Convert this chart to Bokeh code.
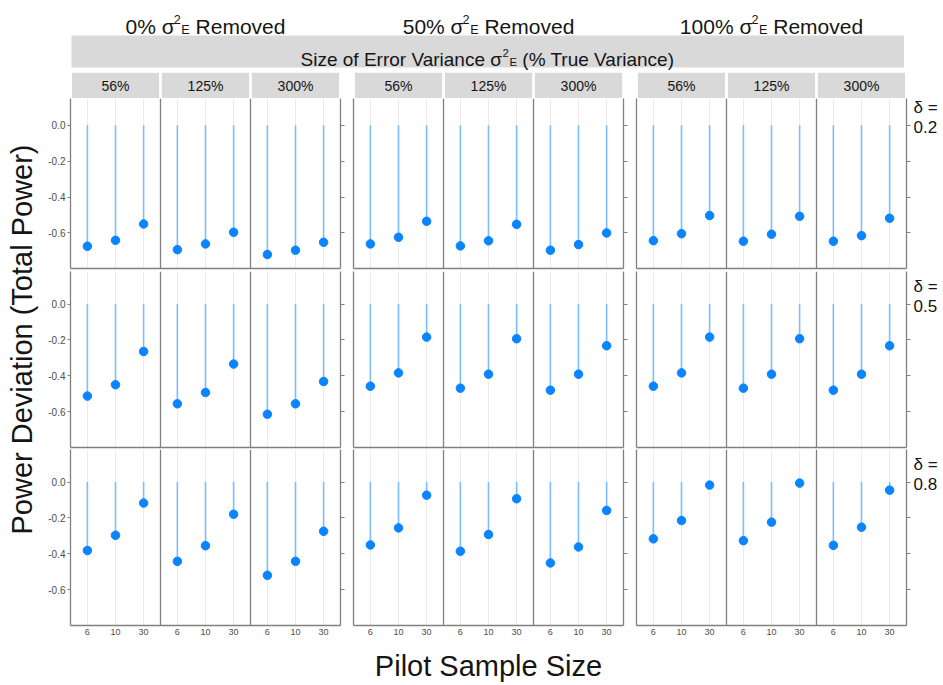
import math

from bokeh.core.properties import value
from bokeh.embed import file_html
from bokeh.layouts import column, row
from bokeh.models import FixedTicker, LinearAxis, NumeralTickFormatter, Range1d, Span
from bokeh.plotting import figure
from bokeh.resources import INLINE

FONT = "Liberation Sans"

# ---------------------------------------------------------------- data
removal_levels = ["0%", "50%", "100%"]            # share of error variance removed
error_variance_levels = ["56%", "125%", "300%"]  # size of error variance (% true variance)
pilot_sizes = ["6", "10", "30"]                   # pilot sample size
effect_sizes = ["0.2", "0.5", "0.8"]              # delta
y_ticks = [-0.6, -0.4, -0.2, 0.0]

# Power deviation: one list per error-variance size, one value per pilot size.
d02_removed0 = [[-0.674, -0.641, -0.550], [-0.693, -0.661, -0.596], [-0.720, -0.696, -0.652]]
d02_removed50 = [[-0.661, -0.624, -0.535], [-0.672, -0.644, -0.552], [-0.696, -0.665, -0.600]]
d02_removed100 = [[-0.643, -0.604, -0.503], [-0.646, -0.607, -0.507], [-0.646, -0.615, -0.518]]

d05_removed0 = [[-0.512, -0.449, -0.264], [-0.555, -0.492, -0.334], [-0.613, -0.555, -0.431]]
d05_removed50 = [[-0.457, -0.383, -0.184], [-0.468, -0.390, -0.193], [-0.479, -0.390, -0.232]]
d05_removed100 = [[-0.457, -0.383, -0.184], [-0.468, -0.390, -0.193], [-0.479, -0.390, -0.232]]

d08_removed0 = [[-0.381, -0.296, -0.117], [-0.441, -0.354, -0.179], [-0.519, -0.441, -0.274]]
d08_removed50 = [[-0.350, -0.255, -0.073], [-0.385, -0.292, -0.093], [-0.450, -0.361, -0.158]]
d08_removed100 = [[-0.316, -0.214, -0.017], [-0.326, -0.223, -0.006], [-0.352, -0.251, -0.045]]

power_deviation = [
    [d02_removed0, d02_removed50, d02_removed100],
    [d05_removed0, d05_removed50, d05_removed100],
    [d08_removed0, d08_removed50, d08_removed100],
]

# ---------------------------------------------------------------- layout / style
PANEL_W = 90
GROUP_FRAME_W = 3 * PANEL_W
PANEL_SPAN = 3.2          # data width of one facet (3 levels + padding)
X_START = 0.4
X_END = X_START + 3 * PANEL_SPAN
LEFT_BORDER = [30, 6, 6]
RIGHT_BORDER = 7
YTITLE_W = 40
LABEL_W = 30
HEADER_H = 72
STRIP_H = 26
FOOTER_H = 40
ROW_FRAME_H = [170, 176, 176]
ROW_BOTTOM = [3, 2, 20]
ROW_TOP = [0.149, 0.181, 0.181]
Y_BOTTOM = -0.798

AXIS_GRAY = "#808080"
GRID_GRAY = "#ebebeb"
STRIP_GRAY = "#d9d9d9"
POINT_BLUE = "#0a84ff"
STEM_BLUE = "#7cbcff"
TICK_TEXT = "#4d4d4d"
TEXT = "#151515"

x_positions = [c * PANEL_SPAN + k + 1 for c in range(3) for k in range(3)]
x_labels = {x: pilot_sizes[i % 3] for i, x in enumerate(x_positions)}

CHAR_W = {" ": 278, "%": 889, "(": 333, ")": 333, "=": 584, "A": 667, "E": 667,
          "P": 667, "R": 722, "S": 667, "T": 611, "V": 667, "a": 556, "c": 500,
          "d": 556, "e": 556, "f": 278, "i": 222, "l": 222, "m": 833, "n": 556,
          "o": 556, "p": 556, "r": 333, "t": 278, "u": 556, "v": 500, "w": 722,
          "z": 500, "σ": 571, "δ": 556}


def text_width(s, size):
    return sum(CHAR_W.get(ch, 556) for ch in s) / 1000.0 * size


def blank_figure(width, height, x_range, y_range, **borders):
    p = figure(width=width, height=height, x_range=x_range, y_range=y_range,
               x_axis_location=None, y_axis_location=None, title=None,
               output_backend="svg", toolbar_location=None,
               min_border_left=borders.get("left", 0), min_border_right=borders.get("right", 0),
               min_border_top=borders.get("top", 0), min_border_bottom=borders.get("bottom", 0))
    p.grid.visible = False
    p.outline_line_color = None
    p.background_fill_color = "white"
    p.border_fill_color = "white"
    return p


SCRIPT_SCALE = 0.6


def rich_text(p, cx, baseline, size, parts):
    """Centered text made of normal, superscript and subscript runs."""
    sizes = [size * SCRIPT_SCALE if style else size for _, style in parts]
    widths = [text_width(t, s) for (t, _), s in zip(parts, sizes)]
    widths = [w + (0.03 * size if style == "sub" else 0.0)
              for w, (_, style) in zip(widths, parts)]
    x = cx - sum(widths) / 2.0
    for (txt, style), fs, w in zip(parts, sizes, widths):
        dy = -0.33 * size if style == "sup" else (0.16 * size if style == "sub" else 0.0)
        lead = text_width(txt[:len(txt) - len(txt.lstrip())], fs)
        shift = 0.03 * size if style == "sub" else 0.0
        p.text(x=[x + lead + shift], y=[baseline + dy], text=[txt.strip()],
               text_font=value(FONT), text_font_size=f"{fs:.1f}px", text_align="left",
               text_baseline="alphabetic", text_color=TEXT)
        x += w


def sigma_parts(before, after):
    return [(before + "σ", ""), ("2", "sup"), ("E", "sub"), (after, "")]


# ---------------------------------------------------------------- header
header_w = 943 - YTITLE_W
header = blank_figure(header_w, HEADER_H, Range1d(0, header_w), Range1d(HEADER_H, 0))
group_left = []
offset = 0
for g in range(3):
    group_left.append(offset + LEFT_BORDER[g])
    offset += LEFT_BORDER[g] + GROUP_FRAME_W + RIGHT_BORDER
for g, lvl in enumerate(removal_levels):
    rich_text(header, group_left[g] + GROUP_FRAME_W / 2, 26, 21,
              sigma_parts(lvl + " ", " Removed"))
header.quad(left=[group_left[0] + 1], right=[group_left[2] + GROUP_FRAME_W - 2.5],
            bottom=[67], top=[35], fill_color=STRIP_GRAY, line_color=None)
rich_text(header, (group_left[0] + group_left[2] + GROUP_FRAME_W) / 2, 58.5, 19,
          sigma_parts("Size of Error Variance ", " (% True Variance)"))


# ---------------------------------------------------------------- facet strips
def strip_figure(g):
    p = blank_figure(LEFT_BORDER[g] + GROUP_FRAME_W + RIGHT_BORDER, STRIP_H,
                     Range1d(X_START, X_END), Range1d(0, 1),
                     left=LEFT_BORDER[g], right=RIGHT_BORDER)
    lefts = [c * PANEL_SPAN + X_START + 0.05 for c in range(3)]
    rights = [(c + 1) * PANEL_SPAN + X_START - 0.05 for c in range(3)]
    p.quad(left=lefts, right=rights, bottom=0, top=1, fill_color=STRIP_GRAY, line_color=None)
    centers = [c * PANEL_SPAN + 2 for c in range(3)]
    p.text(x=centers, y=[0.5] * 3, text=error_variance_levels, text_font=value(FONT),
           text_font_size="14px", text_align="center", text_baseline="middle",
           text_color=TEXT)
    return p


strip_row = row(*[strip_figure(g) for g in range(3)],
                blank_figure(LABEL_W, STRIP_H, Range1d(0, 1), Range1d(0, 1)))


# ---------------------------------------------------------------- panels
def hide_axis(axis):
    axis.ticker = FixedTicker(ticks=[])
    axis.major_tick_out = 0
    axis.major_tick_in = 0
    axis.minor_tick_out = 0
    axis.minor_tick_in = 0
    axis.major_label_standoff = 0


def panel_figure(g, r, y_range):
    left = LEFT_BORDER[g]
    p = figure(width=left + GROUP_FRAME_W + RIGHT_BORDER,
               height=ROW_FRAME_H[r] + ROW_BOTTOM[r],
               x_range=Range1d(X_START, X_END), y_range=y_range, title=None,
               output_backend="svg", toolbar_location=None,
               min_border_left=left, min_border_right=RIGHT_BORDER,
               min_border_top=0, min_border_bottom=ROW_BOTTOM[r])
    p.outline_line_color = None
    p.background_fill_color = "white"
    p.border_fill_color = "white"
    p.ygrid.visible = False
    p.xgrid.ticker = FixedTicker(ticks=x_positions)
    p.xgrid.grid_line_color = GRID_GRAY
    p.xgrid.grid_line_width = 1

    # bottom axis
    xa = p.xaxis[0]
    xa.axis_line_color = AXIS_GRAY
    xa.axis_line_width = 1.3
    if r == 2:
        xa.ticker = FixedTicker(ticks=x_positions)
        xa.major_label_overrides = x_labels
        xa.major_tick_out = 0
        xa.major_tick_in = 0
        xa.minor_tick_out = 0
        xa.minor_tick_in = 0
        xa.major_label_standoff = 3
        xa.major_label_text_font = FONT
        xa.major_label_text_font_size = "9px"
        xa.major_label_text_color = TICK_TEXT
    else:
        hide_axis(xa)

    # left axis
    ya = p.yaxis[0]
    ya.axis_line_color = AXIS_GRAY
    ya.axis_line_width = 1.3
    if g == 0:
        ya.ticker = FixedTicker(ticks=y_ticks)
        ya.formatter = NumeralTickFormatter(format="0.0")
        ya.major_tick_out = 3
        ya.major_tick_in = 0
        ya.minor_tick_out = 0
        ya.minor_tick_in = 0
        ya.major_tick_line_color = AXIS_GRAY
        ya.major_label_standoff = 2
        ya.major_label_text_font = FONT
        ya.major_label_text_font_size = "10px"
        ya.major_label_text_color = TICK_TEXT
    else:
        hide_axis(ya)

    # right axis: tick marks only, no labels
    ra = LinearAxis(ticker=FixedTicker(ticks=y_ticks), axis_line_color=AXIS_GRAY,
                    axis_line_width=1.3, major_tick_out=4, major_tick_in=0,
                    minor_tick_out=0, minor_tick_in=0, major_tick_line_color=AXIS_GRAY,
                    major_label_standoff=0, major_label_text_font_size="1px",
                    major_label_text_color=None)
    p.add_layout(ra, "right")

    # facet separators inside the group
    for c in (1, 2):
        p.add_layout(Span(location=c * PANEL_SPAN + X_START, dimension="height",
                          line_color=AXIS_GRAY, line_width=1.3))

    for c in range(3):
        vals = power_deviation[r][g][c]
        xs = [c * PANEL_SPAN + k + 1 for k in range(3)]
        p.segment(x0=xs, y0=[0.0] * 3, x1=xs, y1=vals, line_color=STEM_BLUE, line_width=1.6)
        p.scatter(x=xs, y=vals, size=8.5, fill_color=POINT_BLUE, line_color=POINT_BLUE)
    return p


def effect_label(r, y_range):
    p = blank_figure(LABEL_W, ROW_FRAME_H[r] + ROW_BOTTOM[r], Range1d(0, 1), y_range,
                     bottom=ROW_BOTTOM[r])
    p.text(x=[0.0, 0.0], y=[0.100, -0.011], text=["δ =", effect_sizes[r]],
           text_font=value(FONT), text_font_size="17px", text_align="left",
           text_baseline="middle", text_color=TEXT)
    return p


panel_rows = []
for r in range(3):
    yr = Range1d(Y_BOTTOM, ROW_TOP[r])
    panel_rows.append(row(*[panel_figure(g, r, yr) for g in range(3)], effect_label(r, yr)))

# ---------------------------------------------------------------- axis titles
footer = blank_figure(header_w, FOOTER_H, Range1d(0, header_w), Range1d(FOOTER_H, 0))
footer.text(x=[(group_left[0] + group_left[2] + GROUP_FRAME_W) / 2], y=[20],
            text=["Pilot Sample Size"], text_font=value(FONT), text_font_size="29px",
            text_align="center", text_baseline="middle", text_color=TEXT)

total_h = HEADER_H + STRIP_H + sum(ROW_FRAME_H) + sum(ROW_BOTTOM) + FOOTER_H
ytitle = blank_figure(YTITLE_W, total_h, Range1d(0, YTITLE_W), Range1d(0, total_h))
ytitle.text(x=[21], y=[total_h - 339], text=["Power Deviation (Total Power)"],
            text_font=value(FONT), text_font_size="29px", angle=math.pi / 2,
            text_align="center", text_baseline="middle", text_color=TEXT)

layout = row(ytitle, column(header, strip_row, *panel_rows, footer))

open("out.html", "w").write(file_html(layout, INLINE))
